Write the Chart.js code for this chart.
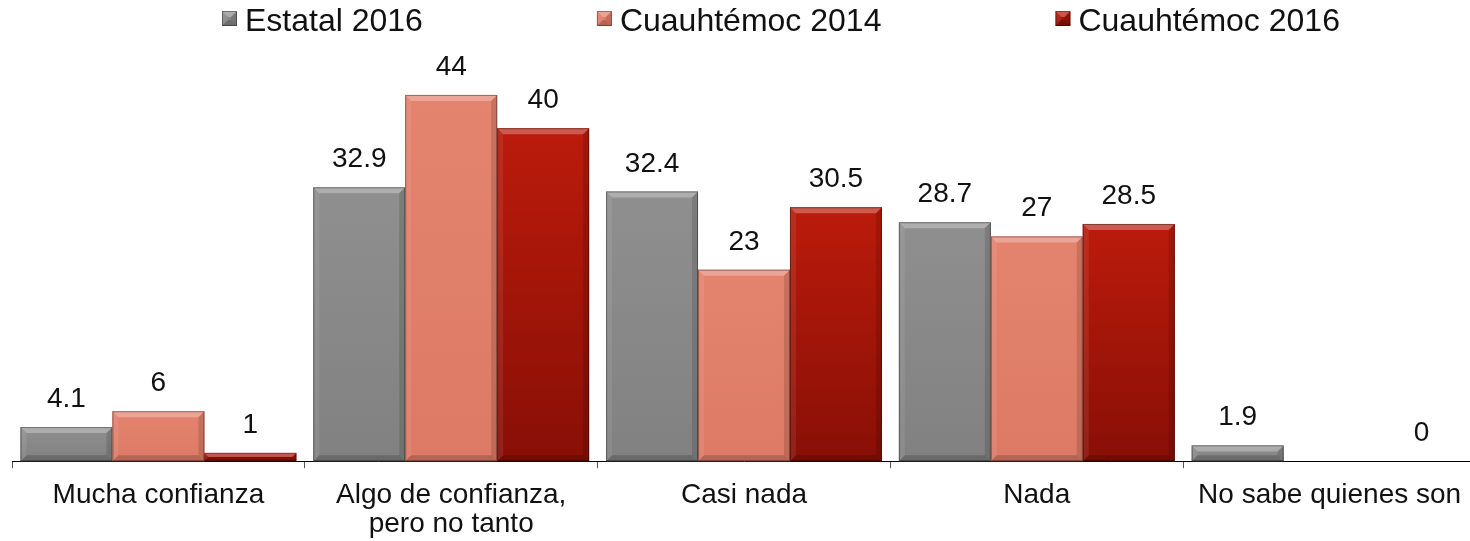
<!DOCTYPE html>
<html><head><meta charset="utf-8">
<script src="https://cdn.jsdelivr.net/npm/chart.js@4.4.1/dist/chart.umd.min.js"></script>
<style>html,body{margin:0;padding:0;background:#fff;overflow:hidden;}#wrap{position:relative;width:1480px;height:541px;}</style>
</head><body><div id="wrap"><canvas id="c"></canvas></div>
<script>
const categories = ["Mucha confianza", ["Algo de confianza,", "pero no tanto"], "Casi nada", "Nada", "No sabe quienes son"];
const seriesNames = ["Estatal 2016", "Cuauhtémoc 2014", "Cuauhtémoc 2016"];
const estatal2016 = [4.1, 32.9, 32.4, 28.7, 1.9];
const cuauhtemoc2014 = [6, 44, 23, 27, null];
const cuauhtemoc2016 = [1, 40, 30.5, 28.5, 0];
const yMin = 0, yMax = 50;

const FONT = '"Liberation Sans", Arial, sans-serif';
const palette = [
  {top:'#8f8f8f', bottom:'#818181', base:'#8a8a8a'},
  {top:'#e4836e', bottom:'#dc7a65', base:'#e07f6a'},
  {top:'#bb1b0b', bottom:'#880f06', base:'#a8160a'}
];

function bevelBar(ctx, L, R, T, B, col) {
  if (B - T < 0.5) return;
  const g = ctx.createLinearGradient(0, T, 0, B);
  g.addColorStop(0, col.top); g.addColorStop(1, col.bottom);
  ctx.fillStyle = g;
  ctx.fillRect(L, T, R - L, B - T);
  const b = Math.min(6, (B - T) / 2, (R - L) / 2);
  const poly = (pts, fill) => { ctx.beginPath(); ctx.moveTo(pts[0][0], pts[0][1]); for (let i = 1; i < pts.length; i++) ctx.lineTo(pts[i][0], pts[i][1]); ctx.closePath(); ctx.fillStyle = fill; ctx.fill(); };
  poly([[L,T],[R,T],[R-b,T+b],[L+b,T+b]], 'rgba(255,255,255,0.28)');
  poly([[L,T],[L+b,T+b],[L+b,B-b],[L,B]], 'rgba(255,255,255,0.08)');
  poly([[R,T],[R,B],[R-b,B-b],[R-b,T+b]], 'rgba(0,0,0,0.13)');
  poly([[L,B],[R,B],[R-b,B-b],[L+b,B-b]], 'rgba(0,0,0,0.18)');
  ctx.strokeStyle = 'rgba(0,0,0,0.35)'; ctx.lineWidth = 1;
  ctx.strokeRect(L + 0.5, T + 0.5, R - L - 1, B - T - 1);
}

const barPlugin = {
  id: 'bevelBars',
  afterDatasetsDraw(chart) {
    const ctx = chart.ctx;
    ctx.save();
    chart.data.datasets.forEach((ds, di) => {
      const meta = chart.getDatasetMeta(di);
      meta.data.forEach((el, i) => {
        const v = ds.data[i];
        if (v === null || v === undefined) return;
        const p = el.getProps(['x','y','base','width'], true);
        bevelBar(ctx, p.x - p.width / 2, p.x + p.width / 2, Math.min(p.y, p.base), Math.max(p.y, p.base), palette[di]);
      });
    });
    ctx.fillStyle = '#111';
    ctx.font = '28px ' + FONT;
    ctx.textAlign = 'center';
    ctx.textBaseline = 'alphabetic';
    chart.data.datasets.forEach((ds, di) => {
      const meta = chart.getDatasetMeta(di);
      meta.data.forEach((el, i) => {
        const v = ds.data[i];
        if (v === null || v === undefined) return;
        const p = el.getProps(['x','y'], true);
        ctx.fillText(String(v), p.x, p.y - 20);
      });
    });
    ctx.restore();
  }
};

const legendPlugin = {
  id: 'customLegend',
  afterDraw(chart) {
    const ctx = chart.ctx;
    ctx.save();
    ctx.font = '32px ' + FONT;
    ctx.textBaseline = 'alphabetic';
    ctx.textAlign = 'left';
    let x = 222;
    const box = 15, boxTop = 11, gapText = 8, gapItem = 174;
    seriesNames.forEach((name, i) => {
      bevelBar(ctx, x, x + box, boxTop, boxTop + box, {top: palette[i].top, bottom: palette[i].bottom});
      ctx.fillStyle = '#111';
      ctx.fillText(name, x + box + gapText, 31);
      x += box + gapText + ctx.measureText(name).width + gapItem;
    });
    ctx.restore();
  }
};

new Chart(document.getElementById('c'), {
  type: 'bar',
  data: {
    labels: categories,
    datasets: [
      {label: seriesNames[0], data: estatal2016, backgroundColor: palette[0].base},
      {label: seriesNames[1], data: cuauhtemoc2014, backgroundColor: palette[1].base},
      {label: seriesNames[2], data: cuauhtemoc2016, backgroundColor: palette[2].base}
    ]
  },
  options: {
    responsive: true,
    maintainAspectRatio: false,
    animation: false,
    devicePixelRatio: 1,
    layout: {padding: {top: 45, left: 12, right: 4, bottom: -10}},
    datasets: {bar: {categoryPercentage: 0.942, barPercentage: 1.0}},
    plugins: {legend: {display: false}, tooltip: {enabled: false}},
    scales: {
      y: {display: false, min: yMin, max: yMax},
      x: {
        offset: true,
        grid: {display: true, drawOnChartArea: false, drawTicks: true, offset: true, tickLength: 7, color: '#555', tickColor: '#555'},
        border: {display: true, color: '#000', width: 1},
        ticks: {color: '#111', font: {size: 28, family: FONT, lineHeight: 1.05}, padding: 12, autoSkip: false, maxRotation: 0, minRotation: 0}
      }
    }
  },
  plugins: [barPlugin, legendPlugin]
});
</script>
</body></html>
